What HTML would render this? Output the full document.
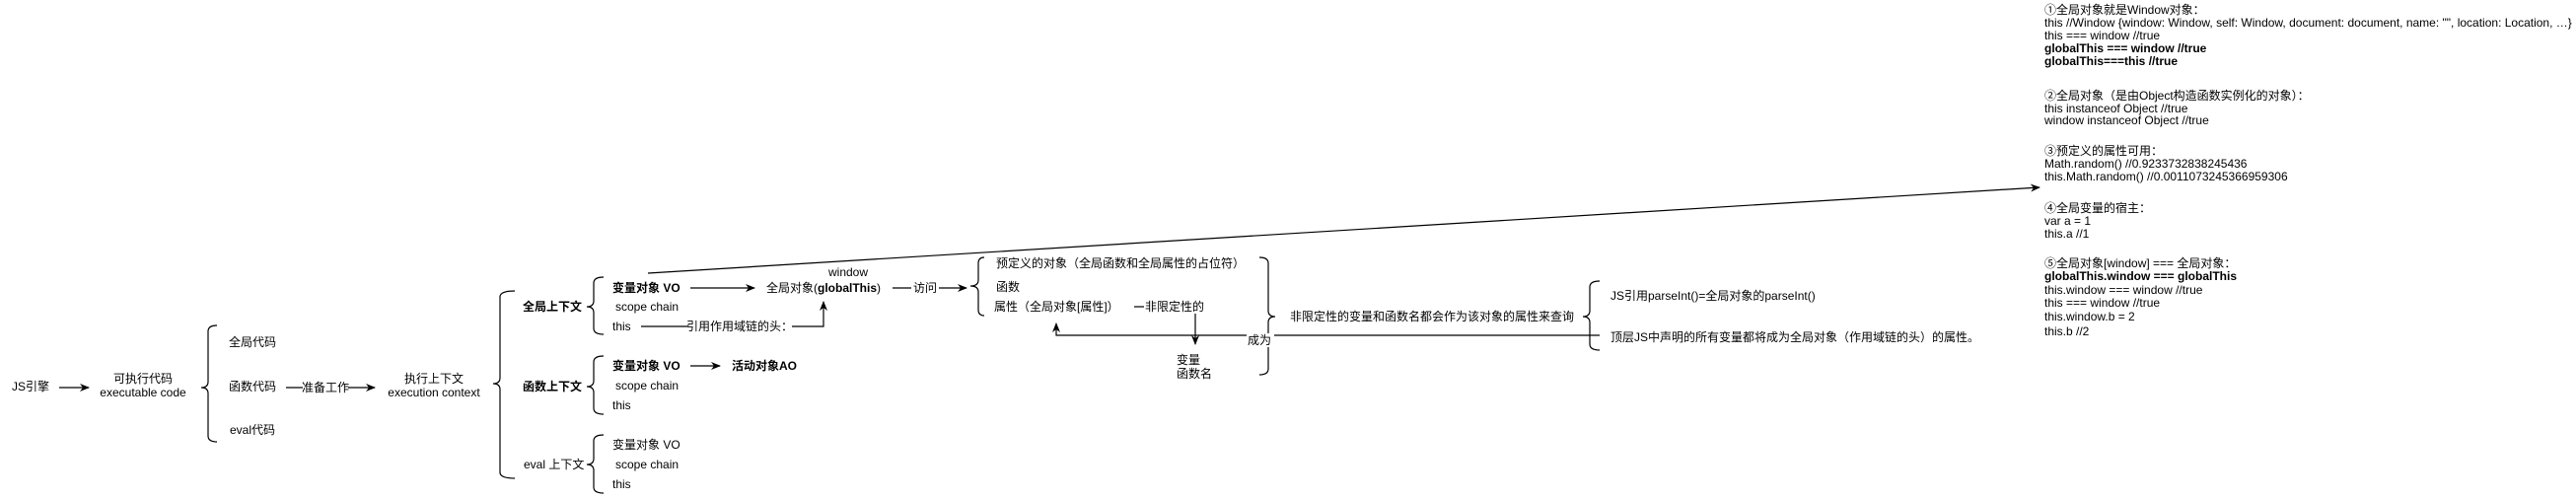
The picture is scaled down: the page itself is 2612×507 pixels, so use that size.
<!DOCTYPE html>
<html><head><meta charset="utf-8"><style>
html,body{margin:0;padding:0;background:#fff;}
svg{display:block;}
text{font-family:"Liberation Sans","Noto Sans CJK SC",sans-serif;font-size:12px;fill:#000;dominant-baseline:central;}
.b{font-weight:bold;}
.p text{font-size:12px;}
</style></head><body>
<svg width="2612" height="507" viewBox="0 0 2612 507" xmlns="http://www.w3.org/2000/svg">
<defs><marker id="a" markerWidth="10" markerHeight="8" refX="9" refY="4" orient="auto" markerUnits="userSpaceOnUse"><path d="M0,0 L10,4 L0,8 L3,4 Z" fill="#000"/></marker></defs>
<g fill="none" stroke="#000" stroke-width="1.2">
<path d="M220,330 Q211,330 211,336 L211,387 Q211,393 204,393 Q211,393 211,399 L211,442 Q211,448 220,448"/>
<path d="M522,295 Q507,295 507,301 L507,383 Q507,389 500,389 Q507,389 507,395 L507,479 Q507,485 522,485"/>
<path d="M612,281 Q602,281 602,287 L602,305 Q602,311 595,311 Q602,311 602,317 L602,333 Q602,339 612,339"/>
<path d="M612,361 Q602,361 602,367 L602,386 Q602,392 595,392 Q602,392 602,398 L602,414 Q602,420 612,420"/>
<path d="M612,441 Q602,441 602,447 L602,465 Q602,471 595,471 Q602,471 602,477 L602,494 Q602,500 612,500"/>
<path d="M998,261 Q992,261 992,267 L992,284 Q992,290 984,290 Q992,290 992,296 L992,314 Q992,320 998,320"/>
<path d="M1277,261 Q1286,261 1286,267 L1286,315 Q1286,321 1293,321 Q1286,321 1286,327 L1286,374 Q1286,380 1277,380"/>
<path d="M1622,285 Q1612,285 1612,291 L1612,315 Q1612,321 1605,321 Q1612,321 1612,327 L1612,349 Q1612,355 1622,355"/>
<line x1="60" y1="393" x2="90" y2="393" marker-end="url(#a)"/>
<line x1="290" y1="393" x2="380" y2="393" marker-end="url(#a)"/>
<line x1="700" y1="292" x2="765" y2="292" marker-end="url(#a)"/>
<line x1="905" y1="292" x2="980" y2="292" marker-end="url(#a)"/>
<polyline points="650,331 835,331 835,306" marker-end="url(#a)"/>
<line x1="700" y1="371" x2="730" y2="371" marker-end="url(#a)"/>
<line x1="1212" y1="318" x2="1212" y2="349" marker-end="url(#a)"/>
<line x1="1150" y1="311" x2="1160" y2="311"/>
<polyline points="1622,340 1071,340 1071,328" marker-end="url(#a)"/>
<line x1="657" y1="277" x2="2068" y2="190" marker-end="url(#a)"/>
</g>
<rect x="307" y="386" width="46" height="14" fill="#fff"/>
<rect x="924" y="285" width="28" height="14" fill="#fff"/>
<rect x="697" y="324" width="106" height="14" fill="#fff"/>
<rect x="1264" y="338" width="28" height="14" fill="#fff"/>
<text x="12" y="392">JS引擎</text>
<text x="145" y="384" text-anchor="middle">可执行代码</text>
<text x="145" y="398" text-anchor="middle">executable code</text>
<text x="232" y="347">全局代码</text>
<text x="232" y="392">函数代码</text>
<text x="233" y="436">eval代码</text>
<text x="330" y="393" text-anchor="middle">准备工作</text>
<text x="440" y="384" text-anchor="middle">执行上下文</text>
<text x="440" y="398" text-anchor="middle">execution context</text>
<text x="530" y="311" class="b">全局上下文</text>
<text x="530" y="392" class="b">函数上下文</text>
<text x="531" y="471">eval 上下文</text>
<text x="621" y="292" class="b">变量对象 VO</text>
<text x="624" y="311">scope chain</text>
<text x="621" y="331">this</text>
<text x="621" y="371" class="b">变量对象 VO</text>
<text x="624" y="391">scope chain</text>
<text x="621" y="411">this</text>
<text x="621" y="451">变量对象 VO</text>
<text x="624" y="471">scope chain</text>
<text x="621" y="491">this</text>
<text x="742" y="371" class="b">活动对象AO</text>
<text x="860" y="276" text-anchor="middle">window</text>
<text x="777" y="292">全局对象(<tspan class="b">globalThis</tspan>)</text>
<text x="938" y="292" text-anchor="middle">访问</text>
<text x="750" y="331" text-anchor="middle">引用作用域链的头：</text>
<text x="1010" y="267">预定义的对象（全局函数和全局属性的占位符）</text>
<text x="1010" y="291">函数</text>
<text x="1008" y="311">属性（全局对象[属性]）</text>
<text x="1161" y="311">非限定性的</text>
<text x="1193" y="365">变量</text>
<text x="1193" y="379">函数名</text>
<text x="1265" y="345">成为</text>
<text x="1308" y="321">非限定性的变量和函数名都会作为该对象的属性来查询</text>
<text x="1633" y="300">JS引用parseInt()=全局对象的parseInt()</text>
<text x="1633" y="342">顶层JS中声明的所有变量都将成为全局对象（作用域链的头）的属性。</text>
<g class="p">
<text x="2073" y="10">①全局对象就是Window对象：</text>
<text x="2073" y="23">this //Window {window: Window, self: Window, document: document, name: "", location: Location, …}</text>
<text x="2073" y="36">this === window //true</text>
<text x="2073" y="49" class="b">globalThis === window //true</text>
<text x="2073" y="62" class="b">globalThis===this //true</text>
<text x="2073" y="97">②全局对象（是由Object构造函数实例化的对象）：</text>
<text x="2073" y="110">this instanceof Object //true</text>
<text x="2073" y="122">window instanceof Object //true</text>
<text x="2073" y="153">③预定义的属性可用：</text>
<text x="2073" y="166">Math.random() //0.9233732838245436</text>
<text x="2073" y="179">this.Math.random() //0.0011073245366959306</text>
<text x="2073" y="211">④全局变量的宿主：</text>
<text x="2073" y="224">var a = 1</text>
<text x="2073" y="237">this.a //1</text>
<text x="2073" y="267">⑤全局对象[window] === 全局对象：</text>
<text x="2073" y="280" class="b">globalThis.window === globalThis</text>
<text x="2073" y="294">this.window === window //true</text>
<text x="2073" y="307">this === window //true</text>
<text x="2073" y="321">this.window.b = 2</text>
<text x="2073" y="336">this.b //2</text>
</g>
</svg>
</body></html>
